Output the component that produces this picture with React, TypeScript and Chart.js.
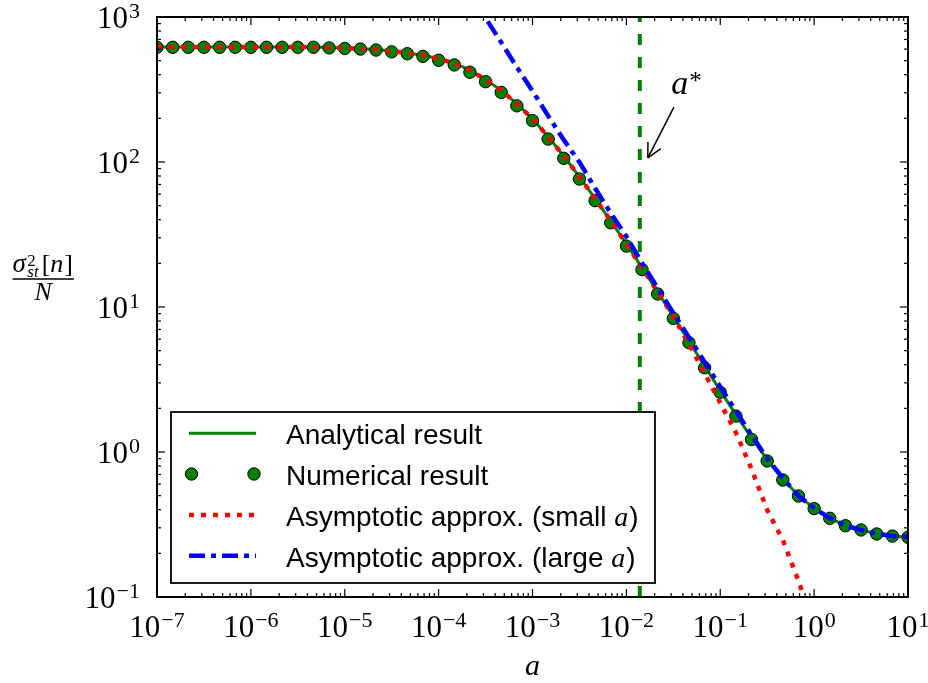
import React, { useEffect, useRef } from "react";
import { Chart, registerables } from "chart.js";
Chart.register(...registerables);

// ---------- data ----------
const numX = [
  1e-7, 1.468e-7, 2.154e-7, 3.162e-7, 4.642e-7, 6.813e-7,
  1e-6, 1.468e-6, 2.154e-6, 3.162e-6, 4.642e-6, 6.813e-6,
  1e-5, 1.468e-5, 2.154e-5, 3.162e-5, 4.642e-5, 6.813e-5,
  1e-4, 1.468e-4, 2.154e-4, 3.162e-4, 4.642e-4, 6.813e-4,
  1e-3, 1.468e-3, 2.154e-3, 3.162e-3, 4.642e-3, 6.813e-3,
  1e-2, 1.468e-2, 2.154e-2, 3.162e-2, 4.642e-2, 6.813e-2,
  1e-1, 1.468e-1, 2.154e-1, 3.162e-1, 4.642e-1, 6.813e-1,
  1, 1.468, 2.154, 3.162, 4.642, 6.813,
  10,
];
const numericalY = [
  618, 618, 618, 618, 618, 618, 618, 618, 618, 618, 618, 612,
  607, 601, 592, 575, 558, 535, 503, 467, 416, 358, 302, 244,
  193, 144, 106, 76.3, 54.1, 38.1, 26.3, 18.1, 12.3, 8.35, 5.67, 3.81,
  2.58, 1.77, 1.22, 0.867, 0.641, 0.497, 0.407, 0.349, 0.31, 0.29, 0.272, 0.263,
  0.258,
];
const analyticalY = [
  620, 620, 620, 620, 620, 620, 620, 620, 620, 620, 620, 615,
  610, 604, 596, 582, 565, 545, 515, 480, 430, 370, 312, 252,
  199, 149, 110, 79, 56, 39.3, 27.2, 18.7, 12.7, 8.6, 5.8, 3.92,
  2.65, 1.81, 1.25, 0.885, 0.65, 0.5, 0.409, 0.35, 0.311, 0.29, 0.273, 0.263,
  0.258,
];
// small-a asymptote, x = numX[0 .. 42]
const smallAY = [
  620, 620, 620, 620, 620, 620, 620, 620, 620, 620, 620, 615,
  610, 604, 596, 582, 565, 545, 515, 480, 430, 370, 312, 252,
  199, 149, 110, 79, 56, 39.3, 27.2, 18.7, 12.7, 8.6, 5.56, 3.49,
  2.18, 1.36, 0.763, 0.398, 0.247, 0.129, 0.063,
];
// large-a asymptote, x = numX[20 .. 48]
const largeAStart = 20;
const largeAY = [
  1450, 984, 668, 451, 309, 208, 142, 99.7, 65.9, 44.4, 30.6, 20.1,
  13.5, 9.1, 6.16, 4.18, 2.81, 1.92, 1.31, 0.902, 0.662, 0.497, 0.411, 0.35,
  0.311, 0.29, 0.274, 0.263, 0.259,
];
const aStar = 0.0139;

const xTickValues = [1e-7, 1e-6, 1e-5, 1e-4, 1e-3, 1e-2, 1e-1, 1, 10];
const xTickExps = ["\u22127", "\u22126", "\u22125", "\u22124", "\u22123", "\u22122", "\u22121", "0", "1"];
const yTickValues = [0.1, 1, 10, 100, 1000];
const yTickExps = ["\u22121", "0", "1", "2", "3"];

const legendLabels = [
  "Analytical result",
  "Numerical result",
  "Asymptotic approx. (small ",
  "Asymptotic approx. (large ",
];
const legendMath = ["", "", "a", "a"];

// annotation a* (data coordinates)
const arrowTail = { x: 0.0321, y: 239 };
const arrowTip = { x: 0.01694, y: 106.7 };
const labelPos = { x: 0.0301, y: 293 };

const GREEN = "#008000";
const RED = "#ff0000";
const BLUE = "#0000ff";
const SERIF = '"Liberation Serif", "DejaVu Serif", serif';
const SANS = '"Liberation Sans", Arial, sans-serif';
const MARKER_R = 6.2;

function drawPow(ctx: CanvasRenderingContext2D, exp: string, x: number, base: number, align: "center" | "right") {
  const big = `31px ${SERIF}`;
  const small = `22px ${SERIF}`;
  ctx.font = big;
  const w1 = ctx.measureText("10").width;
  ctx.font = small;
  const w2 = ctx.measureText(exp).width;
  const tot = w1 + 1 + w2;
  const sx = align === "center" ? x - tot / 2 : x - tot;
  ctx.textAlign = "left";
  ctx.textBaseline = "alphabetic";
  ctx.fillStyle = "#000";
  ctx.font = big;
  ctx.fillText("10", sx, base);
  ctx.font = small;
  ctx.fillText(exp, sx + w1 + 1, base - 10);
}

const decorPlugin = {
  id: "decor",
  afterDatasetsDraw(chart: any) {
    const ctx: CanvasRenderingContext2D = chart.ctx;
    const ca = chart.chartArea;
    const xs = chart.scales.x;
    const ys = chart.scales.y;
    ctx.save();

    // ticks (inward, all four sides)
    ctx.strokeStyle = "#000";
    ctx.lineWidth = 1.2;
    ctx.setLineDash([]);
    const seg = (x1: number, y1: number, x2: number, y2: number) => {
      ctx.beginPath();
      ctx.moveTo(x1, y1);
      ctx.lineTo(x2, y2);
      ctx.stroke();
    };
    for (let e = -7; e <= 1; e++) {
      for (let m = 1; m <= 9; m++) {
        const v = m * Math.pow(10, e);
        if (v > 10.0001) break;
        const px = xs.getPixelForValue(v);
        const len = m === 1 ? 8 : 4;
        seg(px, ca.bottom, px, ca.bottom - len);
        seg(px, ca.top, px, ca.top + len);
      }
    }
    for (let e = -1; e <= 3; e++) {
      for (let m = 1; m <= 9; m++) {
        const v = m * Math.pow(10, e);
        if (v > 1000.001) break;
        const py = ys.getPixelForValue(v);
        const len = m === 1 ? 8 : 4;
        seg(ca.left, py, ca.left + len, py);
        seg(ca.right, py, ca.right - len, py);
      }
    }
    // frame
    ctx.lineWidth = 2;
    ctx.strokeRect(ca.left, ca.top, ca.right - ca.left, ca.bottom - ca.top);

    // tick labels
    xTickValues.forEach((v, i) => {
      drawPow(ctx, xTickExps[i], xs.getPixelForValue(v), ca.bottom + 40, "center");
    });
    yTickValues.forEach((v, i) => {
      drawPow(ctx, yTickExps[i], ca.left - 17, ys.getPixelForValue(v) + 10.5, "right");
    });

    // x axis title
    ctx.fillStyle = "#000";
    ctx.font = `italic 30px ${SERIF}`;
    ctx.textAlign = "center";
    ctx.fillText("a", (ca.left + ca.right) / 2, 675);

    // y axis title: sigma^2_st[n] / N
    ctx.textAlign = "left";
    let cx = 12.5;
    const nb = 271.5;
    ctx.font = `italic 27px ${SERIF}`;
    ctx.fillText("\u03c3", cx, nb);
    cx += ctx.measureText("\u03c3").width + 1.5;
    ctx.font = `17px ${SERIF}`;
    ctx.fillText("2", cx, 266);
    const w2 = ctx.measureText("2").width;
    ctx.font = `italic 17px ${SERIF}`;
    ctx.fillText("st", cx, 277);
    const wst = ctx.measureText("st").width;
    cx += Math.max(w2, wst) + 3;
    ctx.font = `26px ${SERIF}`;
    ctx.fillText("[", cx, nb);
    cx += ctx.measureText("[").width;
    ctx.font = `italic 26px ${SERIF}`;
    ctx.fillText("n", cx, nb);
    cx += ctx.measureText("n").width + 1;
    ctx.font = `26px ${SERIF}`;
    ctx.fillText("]", cx, nb);
    cx += ctx.measureText("]").width;
    const barL = 12.5;
    const barR = Math.max(cx + 1, 72.5);
    ctx.lineWidth = 1.5;
    seg(barL, 279, barR, 279);
    ctx.font = `italic 26px ${SERIF}`;
    ctx.textAlign = "center";
    ctx.fillText("N", (barL + barR) / 2, 300);

    // annotation a*
    const tx = xs.getPixelForValue(arrowTail.x), ty = ys.getPixelForValue(arrowTail.y);
    const hx = xs.getPixelForValue(arrowTip.x), hy = ys.getPixelForValue(arrowTip.y);
    ctx.strokeStyle = "#000";
    ctx.lineWidth = 1.5;
    seg(tx, ty, hx, hy);
    const ang = Math.atan2(ty - hy, tx - hx);
    const hl = 16, spread = 0.47;
    seg(hx, hy, hx + hl * Math.cos(ang - spread), hy + hl * Math.sin(ang - spread));
    seg(hx, hy, hx + hl * Math.cos(ang + spread), hy + hl * Math.sin(ang + spread));
    const lx = xs.getPixelForValue(labelPos.x), ly = ys.getPixelForValue(labelPos.y);
    ctx.textAlign = "left";
    ctx.font = `italic 34px ${SERIF}`;
    ctx.fillText("a", lx, ly);
    const wa = ctx.measureText("a").width;
    ctx.font = `25px ${SERIF}`;
    ctx.fillText("*", lx + wa + 1, ly - 5);

    // legend
    const bx = 171, by = 412, bw = 484, bh = 171;
    ctx.fillStyle = "#fff";
    ctx.fillRect(bx, by, bw, bh);
    ctx.strokeStyle = "#000";
    ctx.lineWidth = 1.8;
    ctx.strokeRect(bx, by, bw, bh);
    const rows = [433.3, 474, 515, 555.7];
    const hL = 189, hR = 256;
    // analytical
    ctx.strokeStyle = GREEN;
    ctx.lineWidth = 3;
    ctx.setLineDash([]);
    seg(hL, rows[0], hR, rows[0]);
    // numerical markers
    [191.5, 254].forEach((mx) => {
      ctx.beginPath();
      ctx.arc(mx, rows[1], MARKER_R, 0, Math.PI * 2);
      ctx.fillStyle = GREEN;
      ctx.fill();
      ctx.lineWidth = 1;
      ctx.strokeStyle = "#000";
      ctx.stroke();
    });
    // small-a
    ctx.strokeStyle = RED;
    ctx.lineWidth = 4.5;
    ctx.setLineDash([5, 7]);
    seg(hL, rows[2], hR, rows[2]);
    // large-a
    ctx.strokeStyle = BLUE;
    ctx.setLineDash([16, 6, 5, 6]);
    seg(hL, rows[3], hR, rows[3]);
    ctx.setLineDash([]);

    ctx.fillStyle = "#000";
    ctx.textAlign = "left";
    legendLabels.forEach((t, i) => {
      const base = rows[i] + 11;
      let x = 286;
      ctx.font = `28px ${SANS}`;
      ctx.fillText(t, x, base);
      x += ctx.measureText(t).width;
      if (legendMath[i]) {
        ctx.font = `italic 28px ${SERIF}`;
        ctx.fillText(legendMath[i], x, base);
        x += ctx.measureText(legendMath[i]).width + 1;
        ctx.font = `28px ${SANS}`;
        ctx.fillText(")", x, base);
      }
    });

    ctx.restore();
  },
};

export default function App() {
  const ref = useRef<HTMLCanvasElement | null>(null);
  useEffect(() => {
    document.body.style.margin = "0";
    document.body.style.overflow = "hidden";
    const canvas = ref.current;
    if (!canvas) return;
    const pts = (xs: number[], ys: number[]) => ys.map((y, i) => ({ x: xs[i], y }));
    const chart = new Chart(canvas, {
      type: "line",
      data: {
        datasets: [
          {
            label: "Asymptotic approx. (large a)",
            data: pts(numX.slice(largeAStart), largeAY),
            borderColor: BLUE,
            borderWidth: 4.5,
            borderDash: [16, 6, 5, 6],
            pointRadius: 0,
            tension: 0,
            fill: false,
            order: 1,
            clip: 0,
          },
          {
            label: "Asymptotic approx. (small a)",
            data: pts(numX, smallAY),
            borderColor: RED,
            borderWidth: 4.5,
            borderDash: [5, 7],
            pointRadius: 0,
            tension: 0,
            fill: false,
            order: 2,
            clip: 0,
          },
          {
            label: "Numerical result",
            data: pts(numX, numericalY),
            showLine: false,
            pointRadius: MARKER_R,
            pointBackgroundColor: GREEN,
            pointBorderColor: "#000",
            pointBorderWidth: 1,
            order: 3,
            clip: 0,
          },
          {
            label: "Analytical result",
            data: pts(numX, analyticalY),
            borderColor: GREEN,
            borderWidth: 3,
            pointRadius: 0,
            tension: 0,
            fill: false,
            order: 4,
            clip: 0,
          },
          {
            label: "a*",
            data: [
              { x: aStar, y: 0.1 },
              { x: aStar, y: 1000 },
            ],
            borderColor: GREEN,
            borderWidth: 4,
            borderDash: [11, 12],
            pointRadius: 0,
            fill: false,
            order: 5,
            clip: 0,
          },
        ] as any,
      },
      options: {
        animation: false,
        responsive: false,
        events: [],
        layout: { padding: { left: 157, top: 17, right: 20, bottom: 86 } },
        plugins: { legend: { display: false }, tooltip: { enabled: false } },
        scales: {
          x: { type: "logarithmic", min: 1e-7, max: 10, display: false },
          y: { type: "logarithmic", min: 0.1, max: 1000, display: false },
        },
      } as any,
      plugins: [decorPlugin],
    });
    return () => chart.destroy();
  }, []);
  return (
    <div style={{ width: 928, height: 683 }}>
      <canvas ref={ref} width={928} height={683} />
    </div>
  );
}
